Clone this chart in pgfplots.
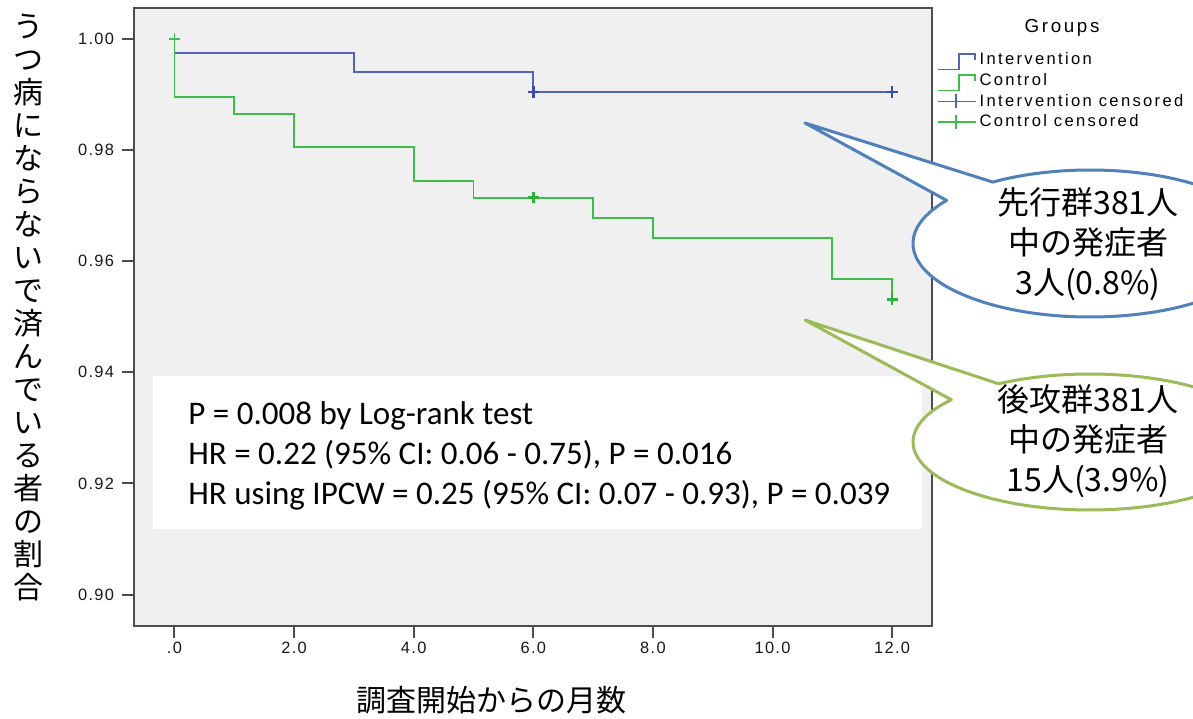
\documentclass[border=0pt]{standalone}
\usepackage{fontspec}
\usepackage{pgfplots}
\pgfplotsset{compat=1.18}
\setmainfont{Liberation Sans}
\newfontfamily\cjk{Noto Sans CJK JP}
\newfontfamily\tickfont[LetterSpace=8]{Liberation Sans}
\newfontfamily\legfont[LetterSpace=14]{Liberation Sans}
\newfontfamily\calib{Carlito}
\definecolor{bgray}{HTML}{F0F0F0}
\definecolor{axgray}{HTML}{4D4D4D}
\definecolor{kmblue}{RGB}{80,100,190}
\definecolor{kmbluedark}{RGB}{55,75,175}
\definecolor{kmgreen}{RGB}{60,190,75}
\definecolor{kmgreendark}{RGB}{40,180,55}
\definecolor{cblue}{HTML}{4F81BD}
\definecolor{cgreen}{HTML}{9BBB59}
\begin{document}
\begin{tikzpicture}[x=0.5pt,y=0.5pt]
\useasboundingbox (0,0) rectangle (1193,718);
\fill[white] (0,0) rectangle (1193,718);
\begin{scope}
\clip (0,0) rectangle (1193,718);
\begin{axis}[
  at={(67pt,46pt)}, anchor=south west,
  scale only axis, width=399pt, height=309pt,
  xmin=-0.677, xmax=12.667, ymin=0.89433, ymax=1.00558,
  axis background/.style={fill=bgray},
  axis line style={draw=axgray, line width=1pt},
  tick style={draw=axgray, line width=1pt},
  tick align=outside, major tick length=6pt,
  xtick pos=left, ytick pos=left,
  xtick={0,2,4,6,8,10,12},
  xticklabels={.0,2.0,4.0,6.0,8.0,10.0,12.0},
  ytick={0.90,0.92,0.94,0.96,0.98,1.00},
  yticklabels={0.90,0.92,0.94,0.96,0.98,1.00},
  /pgf/number format/assume math mode=true,
  ticklabel style={font=\tickfont\fontsize{8.2}{9.5}\selectfont, text=black!90},
  xticklabel style={yshift=1.5pt},
  yticklabel style={xshift=-0.5pt},
  legend style={at={(axis description cs:1,0.933)}, xshift=2.5pt, anchor=north west,
    draw=none, fill=none, inner sep=0pt, outer sep=0pt, row sep=0pt, column sep=1.5pt,
    font=\legfont\fontsize{8.3}{9.5}\selectfont,
    nodes={inner sep=0pt, text height=7.6pt, text depth=2.55pt}},
  legend cell align=left,
]
\addplot[kmblue, line width=0.9pt, const plot,
  legend image code/.code={\draw[draw=kmblue, line width=0.8pt] (0pt,-5pt) -- (10.5pt,-5pt) -- (10.5pt,2.8pt) -- (18.5pt,2.8pt) -- (18.5pt,0pt);}]
  coordinates {(0,0.99743) (3,0.99401) (6,0.99046) (12,0.99046)};
\addlegendentry{Intervention}
\addplot[kmgreen, line width=0.9pt, const plot,
  legend image code/.code={\draw[draw=kmgreen, line width=0.8pt] (0pt,-5pt) -- (10.5pt,-5pt) -- (10.5pt,2.8pt) -- (18.5pt,2.8pt) -- (18.5pt,0pt);}]
  coordinates {(0,1.0) (0,0.98950) (1,0.98644) (2,0.98050) (4,0.97444) (5,0.97143) (7,0.96778) (8,0.96412) (11,0.95685) (12,0.95314)};
\addlegendentry{Control}
\addplot[kmbluedark, only marks, mark=+, mark size=2.8pt, mark options={draw=kmbluedark, line width=1.3pt},
  legend image code/.code={\draw[draw=kmblue, line width=0.8pt] (0pt,0pt) -- (19pt,0pt); \draw[draw=kmblue, line width=0.8pt] (9pt,-3.5pt) -- (9pt,3.5pt);}]
  coordinates {(6,0.99046) (12,0.99046)};
\addlegendentry{Intervention censored}
\addplot[kmgreendark, only marks, mark=+, mark size=2.8pt, mark options={draw=kmgreendark, line width=1.3pt},
  legend image code/.code={\draw[draw=kmgreen, line width=0.8pt] (0pt,0pt) -- (19pt,0pt); \draw[draw=kmgreen, line width=0.8pt] (9pt,-3.5pt) -- (9pt,3.5pt);}]
  coordinates {(6,0.97143) (12,0.95314)};
\addlegendentry{Control censored}
\addplot[kmgreen, only marks, mark=+, mark size=2.8pt, mark options={draw=kmgreen, line width=0.8pt}, forget plot]
  coordinates {(0,1.0)};
\end{axis}
% legend title
\node[font=\legfont\fontsize{9.4}{11}\selectfont, inner sep=0pt] at (1062,690) {Groups};
% statistics box
\fill[white] (153,189) rectangle (922,342);
\begin{scope}[every node/.style={font=\calib\fontsize{16.5}{19}\selectfont, inner sep=0pt, anchor=base west}]
\node at (188,293) {P = 0.008 by Log-rank test};
\node at (188,253.5) {HR = 0.22 (95\% CI: 0.06 - 0.75), P = 0.016};
\node at (188,214) {HR using IPCW = 0.25 (95\% CI: 0.07 - 0.93), P = 0.039};
\end{scope}
% callouts
\draw[cblue, line width=1.5pt, fill=white, line join=round]
  ([shift={(123.3:88.5pt and 36.75pt)}]1090,474.5) -- (805,595) --
  ([shift={(144.1:88.5pt and 36.75pt)}]1090,474.5)
  arc[start angle=144.1, end angle=483.3, x radius=88.5pt, y radius=36.75pt] -- cycle;
\node[font=\cjk\fontsize{16}{20}\selectfont, align=center, inner sep=0pt] at (1088,474)
  {先行群381人\\中の発症者\\3人(0.8\%)};
\draw[cgreen, line width=1.5pt, fill=white, line join=round]
  ([shift={(121.1:88.5pt and 34pt)}]1090,276) -- (805,398) --
  ([shift={(141.6:88.5pt and 34pt)}]1090,276)
  arc[start angle=141.6, end angle=481.1, x radius=88.5pt, y radius=34pt] -- cycle;
\node[font=\cjk\fontsize{16}{20}\selectfont, align=center, inner sep=0pt] at (1088,277)
  {後攻群381人\\中の発症者\\15人(3.9\%)};
% axis labels
\node[font=\cjk\fontsize{15}{16.5}\selectfont, align=center, inner sep=0pt] at (28,410.5)
  {う\\つ\\病\\に\\な\\ら\\な\\い\\で\\済\\ん\\で\\い\\る\\者\\の\\割\\合};
\node[font=\cjk\fontsize{15}{18}\selectfont, inner sep=0pt] at (491.5,18) {調査開始からの月数};
\end{scope}
\end{tikzpicture}
\end{document}
